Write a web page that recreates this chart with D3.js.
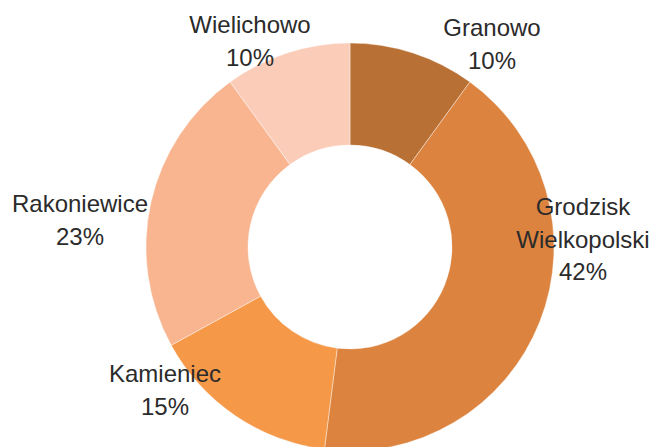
<!DOCTYPE html>
<html>
<head>
<meta charset="utf-8">
<script src="https://cdn.jsdelivr.net/npm/d3@7"></script>
<style>
  body { margin: 0; background: #fff; }
  svg { display: block; }
  text { font-family: "Liberation Sans", Arial, sans-serif; font-size: 24px; fill: #2b2b2b; }
</style>
</head>
<body>
<svg id="chart" width="654" height="447"></svg>
<script>
// gminy - udzial procentowy
var names = ["Granowo", "Grodzisk Wielkopolski", "Kamieniec", "Rakoniewice", "Wielichowo"];
var shares = [10, 42, 15, 23, 10];
var colors = ["#b97034", "#dc843f", "#f59848", "#f8b590", "#fbcdb9"];

// label lines (name split like in the original)
var labelLines = [["Granowo"], ["Grodzisk", "Wielkopolski"], ["Kamieniec"], ["Rakoniewice"], ["Wielichowo"]];

var width = 654, height = 447;
var cx = 350, cy = 247;
var outerR = 204, innerR = 102;
var lineStep = 32.5;

// where each label block starts (first baseline)
var labelAnchor = [
    {x: 492, y: 36},
    {x: 583, y: 215},
    {x: 165, y: 382},
    {x: 80, y: 212},
    {x: 250, y: 33}
];

var svg = d3.select("#chart");

var pie = d3.pie()
    .sort(null)
    .value(function(d) { return d; });

var arc = d3.arc()
    .innerRadius(innerR)
    .outerRadius(outerR);

var color = d3.scaleOrdinal()
    .domain(names)
    .range(colors);

var arcs = pie(shares);

var g = svg.append("g")
    .attr("transform", "translate(" + cx + "," + cy + ")");

g.selectAll("path")
    .data(arcs)
    .enter().append("path")
    .attr("d", arc)
    .attr("fill", function(d, i) { return color(names[i]); })
    .attr("stroke", "#ffffff")
    .attr("stroke-opacity", 0.5)
    .attr("stroke-width", 0.8);

var labels = svg.selectAll(".label")
    .data(arcs)
    .enter().append("text")
    .attr("class", "label")
    .attr("text-anchor", "middle")
    .attr("x", function(d, i) { return labelAnchor[i].x; })
    .attr("y", function(d, i) { return labelAnchor[i].y; });

labels.each(function(d, i)
{
    var t = d3.select(this);
    var lines = labelLines[i].concat([d.data + "%"]);
    lines.forEach(function(l, k)
    {
        t.append("tspan")
        .attr("x", labelAnchor[i].x)
        .attr("dy", k == 0 ? 0 : lineStep)
        .text(l);
    });
});
</script>
</body>
</html>
